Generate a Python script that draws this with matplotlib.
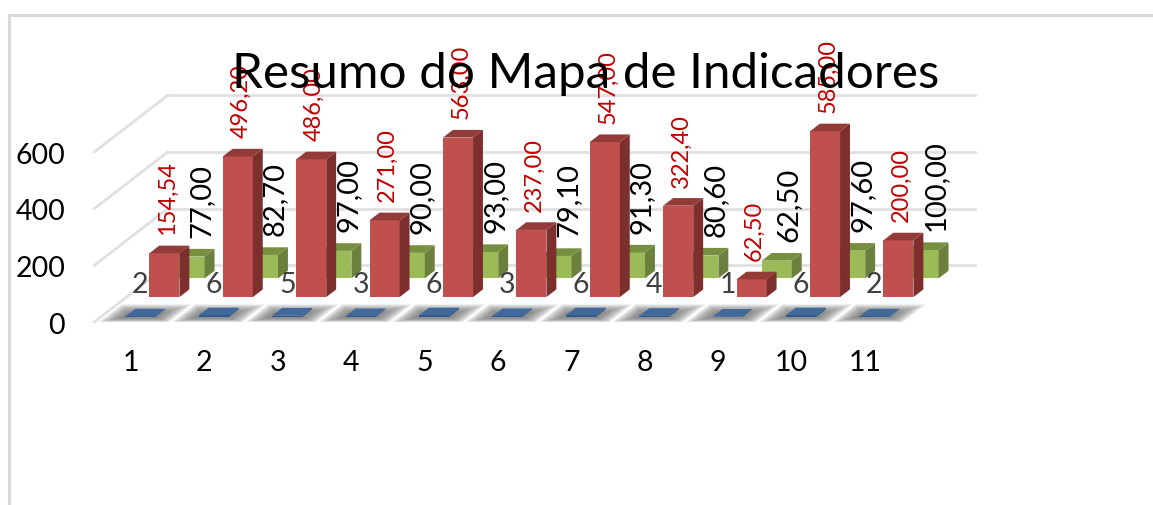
# library imports
import matplotlib
matplotlib.use("Agg")
import matplotlib.pyplot as plt
from matplotlib.transforms import ScaledTranslation

# chart data
categories = [1, 2, 3, 4, 5, 6, 7, 8, 9, 10, 11]
blue_values = [2, 6, 5, 3, 6, 3, 6, 4, 1, 6, 2]
red_values = [154.54, 496.20, 486.00, 271.00, 563.00, 237.00, 547.00, 322.40, 62.50, 585.00, 200.00]
green_values = [77.00, 82.70, 97.00, 90.00, 93.00, 79.10, 91.30, 80.60, 62.50, 97.60, 100.00]
y_ticks = [0, 200, 400, 600]
title = "Resumo do Mapa de Indicadores"

# pseudo 3d: one unit of depth moves a point 1 category right and 200 value units up
DX = 1.0
DY = 200.0
bar_w = 0.41
bar_d = 0.135
left_off = -0.165

plt.rcParams['font.family'] = ['Lato', 'DejaVu Sans']

W, H = 1153, 505
fig = plt.figure(figsize=(W / 100, H / 100), dpi=100)
# axes box is the front plane of the chart, everything else is allowed to spill out
ax = fig.add_axes([94.3 / W, (H - 322) / H, (901.7 - 94.3) / W, 170 / H])
ax.set_xlim(0.5, 11.5)
ax.set_ylim(0, 600)
for s in ax.spines.values():
    s.set_visible(False)
ax.patch.set_visible(False)


def proj(x, v, d):
    return x + d * DX, v + d * DY


def bar3d(cats, values, depth, shift, front, side, top, z):
    x0 = [c + left_off + shift + depth * DX for c in cats]
    base = depth * DY
    ax.bar(x0, values, width=bar_w, bottom=base, align='edge', color=front,
           clip_on=False, zorder=z)
    for x, v in zip(x0, values):
        d = bar_d
        xr = x + bar_w
        ax.fill([xr, xr + d * DX, xr + d * DX, xr],
                [base, base + d * DY, base + v + d * DY, base + v],
                color=side, lw=0, clip_on=False, zorder=z)
        ax.fill([x, xr, xr + d * DX, x + d * DX],
                [base + v, base + v, base + v + d * DY, base + v + d * DY],
                color=top, lw=0, clip_on=False, zorder=z)


grid_col = '#e0e0e0'
# back wall and side wall grid
for v in y_ticks:
    ax.plot([0.5 + DX, 0.5 + DX + 11.0], [v + DY, v + DY], color=grid_col, lw=2,
            clip_on=False, zorder=1)
    ax.plot([0.5, 0.5 + DX], [v, v + DY], color=grid_col, lw=2, clip_on=False, zorder=1)

# soft shadow on the floor, light layers stacked around each blue bar
depth_blue = 0.088
for c in categories:
    for k in range(7):
        grow = 0.27 - k * 0.035
        d0 = 0.0 + k * 0.01
        d1 = 0.31 - k * 0.022
        x0 = c + left_off - grow
        x1 = c + left_off + bar_w + grow
        ax.fill([x0 + d0 * DX, x1 + d0 * DX, x1 + d1 * DX, x0 + d1 * DX],
                [d0 * DY, d0 * DY, d1 * DY, d1 * DY],
                color='#686868', alpha=0.17, lw=0, clip_on=False, zorder=2)

bar3d(categories, green_values, 0.77, -0.012, '#9bbb59', '#6a803c', '#77903f', 3)
bar3d(categories, red_values, 0.44, -0.025, '#c0504d', '#7c2f2d', '#923b39', 4)
bar3d(categories, blue_values, depth_blue, 0.0, '#2f5788', '#2f5788', '#41699b', 5)

# value labels
for c, v in zip(categories, blue_values):
    x, y = proj(c + left_off + bar_w / 2, v, depth_blue)
    ax.text(x, 130, str(v), color='#404040', fontsize=20.5, ha='center', va='center',
            clip_on=False, zorder=6)
for c, v in zip(categories, red_values):
    x, y = proj(c + left_off + bar_w / 2, v, 0.44 + bar_d)
    ax.annotate(f"{v:.2f}".replace('.', ','), (c + left_off + bar_w / 2 + 0.44 * DX + 0.015, y),
                xytext=(0, 7.5), textcoords='offset points', color='#c00000', fontsize=17,
                rotation=90, ha='center', va='bottom', annotation_clip=False, zorder=7)
for c, v in zip(categories, green_values):
    x, y = proj(c + left_off + bar_w / 2, v, 0.77 + bar_d)
    ax.annotate(f"{v:.2f}".replace('.', ','), (x + 0.015, y), xytext=(0, 8),
                textcoords='offset points', color='black', fontsize=21,
                rotation=90, ha='center', va='bottom', annotation_clip=False, zorder=7)

ax.set_xticks(categories)
ax.set_yticks(y_ticks)
ax.tick_params(axis='x', length=0, pad=20, labelsize=20.5)
ax.tick_params(axis='y', length=0, pad=21, labelsize=20.5)
for lab in ax.get_yticklabels():
    lab.set_transform(lab.get_transform() + ScaledTranslation(0, -0.01, fig.dpi_scale_trans))

# title on top of the red labels
fig.text(586 / W, 1 - 88 / H, title, fontsize=35.6, color='black', ha='center', va='baseline',
         zorder=20)

# chart frame, only top and left are inside the crop
fig.add_artist(plt.Line2D([9 / W, 1.0], [1 - 15 / H, 1 - 15 / H], color='#d9d9d9', lw=2.2))
fig.add_artist(plt.Line2D([9 / W, 9 / W], [1 - 15 / H, 0], color='#d9d9d9', lw=2.2))

fig.savefig("out.png", dpi=100)
